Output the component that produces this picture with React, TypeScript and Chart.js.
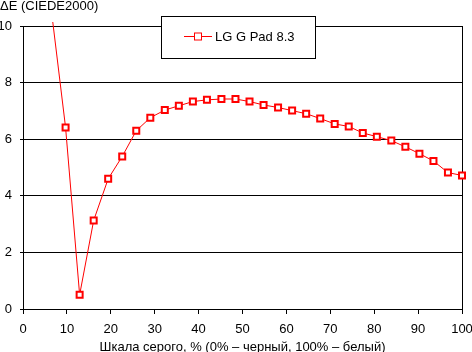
import React, { useEffect, useRef } from "react";
import { Chart, registerables } from "chart.js";

Chart.register(...registerables);

const seriesLabel = "LG G Pad 8.3";
const grayLevels = [
  0, 3.2, 6.5, 9.7, 12.9, 16.1, 19.4, 22.6, 25.8, 29.0, 32.3, 35.5, 38.7, 41.9, 45.2, 48.4,
  51.6, 54.8, 58.1, 61.3, 64.5, 67.7, 71.0, 74.2, 77.4, 80.6, 83.9, 87.1, 90.3, 93.5, 96.8, 100,
];
const deltaE = [
  null, null, 10.5, 6.41, 0.5, 3.13, 4.6, 5.39, 6.3, 6.76, 7.03, 7.18, 7.33, 7.39, 7.42, 7.42,
  7.33, 7.21, 7.12, 7.01, 6.9, 6.73, 6.54, 6.45, 6.22, 6.09, 5.95, 5.73, 5.49, 5.23, 4.82, 4.72,
];
const yTitle = "ΔE (CIEDE2000)";
const xTitle = "Шкала серого, % (0% – черный, 100% – белый)";

const FONT = "'Liberation Sans', Arial, sans-serif";
const RED = "#ff0000";

const decorPlugin = {
  id: "decor",
  beforeDatasetsDraw(chart: any) {
    const { ctx, chartArea } = chart;
    ctx.save();
    ctx.strokeStyle = "#000";
    ctx.lineWidth = 1;
    ctx.beginPath();
    ctx.moveTo(chartArea.right + 0.5, chartArea.top);
    ctx.lineTo(chartArea.right + 0.5, chartArea.bottom);
    ctx.stroke();
    ctx.restore();
  },
  afterDraw(chart: any) {
    const { ctx, chartArea } = chart;
    ctx.save();
    ctx.fillStyle = "#000";
    ctx.font = `13px ${FONT}`;
    ctx.textBaseline = "alphabetic";
    ctx.textAlign = "left";
    ctx.fillText(yTitle, 0, 10);
    ctx.textAlign = "center";
    ctx.fillText(xTitle, (chartArea.left + chartArea.right) / 2, 351);

    // legend box
    const bx = 161, by = 16, bw = 154, bh = 42;
    ctx.fillStyle = "#fff";
    ctx.fillRect(bx, by, bw, bh);
    ctx.strokeStyle = "#000";
    ctx.lineWidth = 1;
    ctx.strokeRect(bx + 0.5, by + 0.5, bw, bh);
    const ly = 36.5;
    ctx.strokeStyle = RED;
    ctx.beginPath();
    ctx.moveTo(184, ly);
    ctx.lineTo(212, ly);
    ctx.stroke();
    ctx.fillStyle = "#fff";
    ctx.fillRect(194.5, ly - 3.5, 7, 7);
    ctx.strokeRect(194.5, ly - 3.5, 7, 7);
    ctx.fillStyle = "#000";
    ctx.textAlign = "left";
    ctx.textBaseline = "middle";
    ctx.fillText(chart.data.datasets[0].label, 215, 37);
    ctx.restore();
  },
};

export default function App() {
  const ref = useRef<HTMLCanvasElement>(null);
  useEffect(() => {
    const canvas = ref.current!;
    const chart = new Chart(canvas, {
      type: "line",
      data: {
        datasets: [
          {
            label: seriesLabel,
            data: grayLevels.map((x, i) => ({ x, y: deltaE[i] })) as any,
            borderColor: RED,
            borderWidth: 1,
            backgroundColor: "#fff",
            pointStyle: "rect",
            pointRadius: 4.25,
            pointHoverRadius: 4.25,
            pointBorderWidth: 2,
            pointBorderColor: RED,
            pointBackgroundColor: "#fff",
            tension: 0,
            spanGaps: false,
            clip: { left: 6, top: 4, right: 6, bottom: 6 } as any,
          },
        ],
      },
      options: {
        animation: false,
        responsive: false,
        maintainAspectRatio: false,
        events: [],
        layout: { padding: { top: 26, right: 10, left: 0, bottom: 0 } },
        plugins: { legend: { display: false }, title: { display: false }, tooltip: { enabled: false } },
        scales: {
          x: {
            type: "linear",
            min: 0,
            max: 100,
            afterFit: (s: any) => {
              s.height = 43;
              s.paddingLeft = 0;
              s.paddingRight = 0;
            },
            ticks: { stepSize: 10, color: "#000", font: { family: FONT, size: 13 }, padding: 8, maxRotation: 0 },
            grid: { drawOnChartArea: false, drawTicks: true, tickLength: 5, color: "#000", lineWidth: 1 },
            border: { display: true, color: "#000", width: 1 },
          },
          y: {
            type: "linear",
            min: 0,
            max: 10,
            afterFit: (s: any) => {
              s.width = 23;
              s.paddingTop = 0;
              s.paddingBottom = 0;
            },
            ticks: { stepSize: 2, color: "#000", font: { family: FONT, size: 13 }, padding: 8 },
            grid: { drawOnChartArea: true, drawTicks: true, tickLength: 3, color: "#000", lineWidth: 1 },
            border: { display: true, color: "#000", width: 1 },
          },
        },
      },
      plugins: [decorPlugin],
    });
    return () => chart.destroy();
  }, []);
  return (
    <div style={{ position: "fixed", left: 0, top: 0, width: 472, height: 352, background: "#fff" }}>
      <canvas ref={ref} width={472} height={352} style={{ width: 472, height: 352, display: "block" }} />
    </div>
  );
}
